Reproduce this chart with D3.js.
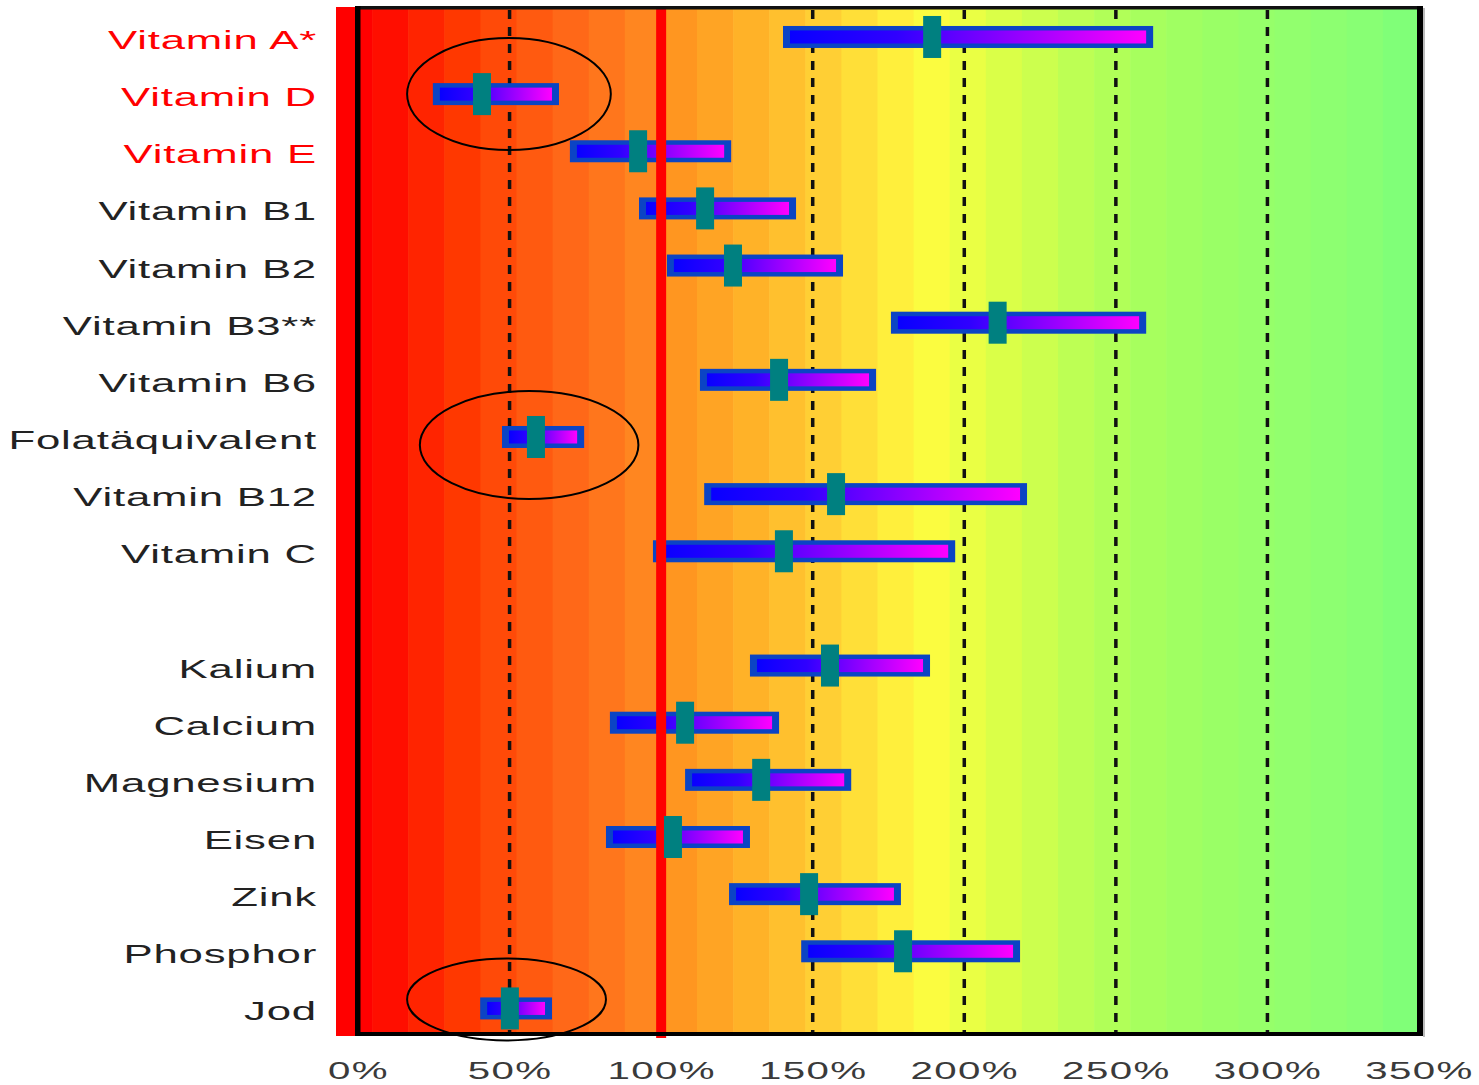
<!DOCTYPE html>
<html>
<head>
<meta charset="utf-8">
<script src="https://cdn.jsdelivr.net/npm/d3@7"></script>
<style>
  html, body { margin: 0; padding: 0; background: #ffffff; }
  svg { display: block; }
</style>
</head>
<body>
<svg id="chart" width="1479" height="1085"></svg>
<script>
// ---------- data ----------
const vitamins = ["Vitamin A*", "Vitamin D", "Vitamin E", "Vitamin B1", "Vitamin B2", "Vitamin B3**",
                  "Vitamin B6", "Folatäquivalent", "Vitamin B12", "Vitamin C"];
const minerals = ["Kalium", "Calcium", "Magnesium", "Eisen", "Zink", "Phosphor", "Jod"];
const categories = [...vitamins, "", ...minerals];
const redLabels = ["Vitamin A*", "Vitamin D", "Vitamin E"];

// range of intake (% of reference) and median marker
const lowValues    = [140.2, 24.7, 69.9, 92.7, 101.9, 175.8, 112.8, 47.5, 114.2, 97.3,
                      129.3, 83.1, 107.9, 81.8, 122.4, 146.2, 40.3];
const highValues   = [262.3, 66.3, 123.1, 144.5, 160.0, 260.0, 170.9, 74.6, 220.7, 197.0,
                      188.7, 138.9, 162.7, 129.3, 179.1, 218.4, 64.0];
const medianValues = [189.4, 40.9, 92.4, 114.5, 123.7, 211.0, 138.9, 58.7, 157.7, 140.5,
                      155.7, 107.9, 133.0, 103.9, 148.8, 179.8, 50.1];
const seriesNames = [...vitamins, ...minerals];

const xTicks = [0, 50, 100, 150, 200, 250, 300, 350];
const dashedTicks = [50, 150, 200, 250, 300];
const referenceLine = 100;

// circled (highlighted) nutrients: value range covered by the ellipse
const highlightCats = ["Vitamin D", "Folatäquivalent", "Jod"];
const highlightFrom = [16.2, 20.4, 16.2];
const highlightTo   = [83.4, 92.5, 81.8];

// ---------- style ----------
const bandColors = ["#ff0000","#ff0e00","#ff2400","#ff3800","#ff4a08","#ff5a10","#ff6818","#ff761c",
  "#ff8620","#ff9620","#ffa424","#ffb228","#ffc02e","#ffcf34","#ffdf38","#ffef3c","#fbfc40","#eaff44",
  "#daff48","#ccff4e","#bdff54","#b1ff58","#a7ff5e","#a0ff62","#9aff66","#96ff6a","#92ff6e","#8dff71",
  "#88ff74","#80ff78"];
const ellipseStyle = { "Vitamin D": {dy: 0, ry: 56}, "Folatäquivalent": {dy: 8, ry: 54}, "Jod": {dy: -9, ry: 41} };
const labelScale = 1.75;

const svg = d3.select("#chart");
const x = d3.scaleLinear().domain([0, 350]).range([358, 1419]);
const y = d3.scaleBand().domain(categories).range([8.4, 1037]).paddingInner(0).paddingOuter(0);
const cy = c => y(c) + y.bandwidth() / 2;

const plotTop = 8, plotBottom = 1034;

// gradient definition for bars
const defs = svg.append("defs");
const grad = defs.append("linearGradient").attr("id", "barGrad")
  .attr("x1", "0%").attr("x2", "100%").attr("y1", "0%").attr("y2", "0%");
grad.append("stop").attr("offset", "0%").attr("stop-color", "#0800ff");
grad.append("stop").attr("offset", "30%").attr("stop-color", "#3000ff");
grad.append("stop").attr("offset", "100%").attr("stop-color", "#ff00ff");

// background bands
const bandStart = 336, bandEnd = x(350);
const bw = (bandEnd - bandStart) / bandColors.length;
svg.append("g").selectAll("rect").data(bandColors).join("rect")
  .attr("x", (d, i) => bandStart + i * bw)
  .attr("width", bw + 0.6)
  .attr("y", plotTop).attr("height", plotBottom - plotTop)
  .attr("fill", d => d);

// red strip at left
svg.append("rect").attr("x", 336).attr("width", 19).attr("y", 7).attr("height", 1029).attr("fill", "#ff0000");

// dashed grid lines
svg.append("g").selectAll("line").data(dashedTicks).join("line")
  .attr("x1", d => x(d)).attr("x2", d => x(d))
  .attr("y1", plotTop + 2).attr("y2", plotBottom)
  .attr("stroke", "#111").attr("stroke-width", 3.5).attr("stroke-dasharray", "9,8");

// bars
const rows = seriesNames.map((c, i) => ({ c, lo: lowValues[i], hi: highValues[i], med: medianValues[i] }));
const barG = svg.append("g");
barG.selectAll("rect.outer").data(rows).join("rect").attr("class", "outer")
  .attr("x", d => x(d.lo)).attr("width", d => x(d.hi) - x(d.lo))
  .attr("y", d => cy(d.c) - 11).attr("height", 22)
  .attr("fill", "#0b44c4");
barG.selectAll("rect.inner").data(rows).join("rect").attr("class", "inner")
  .attr("x", d => x(d.lo) + 7).attr("width", d => Math.max(0, x(d.hi) - x(d.lo) - 14))
  .attr("y", d => cy(d.c) - 6.5).attr("height", 13)
  .attr("fill", "url(#barGrad)");

// reference line at 100%
svg.append("rect").attr("x", x(referenceLine) - 5).attr("width", 10)
  .attr("y", 8).attr("height", 1030).attr("fill", "#ff0000");

// median markers
svg.append("g").selectAll("rect").data(rows).join("rect")
  .attr("x", d => x(d.med) - 9).attr("width", 18)
  .attr("y", d => cy(d.c) - 21).attr("height", 42)
  .attr("fill", "#008080");

// frame
const frame = svg.append("g");
frame.append("rect").attr("x", 355).attr("y", 6).attr("width", 1423 - 355).attr("height", 3.5).attr("fill", "#111");
frame.append("rect").attr("x", 355).attr("y", 1032).attr("width", 1423 - 355).attr("height", 4).attr("fill", "#000");
frame.append("rect").attr("x", 355).attr("y", 6).attr("width", 5.5).attr("height", 1030).attr("fill", "#000");
frame.append("rect").attr("x", 1417).attr("y", 6).attr("width", 6).attr("height", 1030).attr("fill", "#000");
frame.append("rect").attr("x", 1423).attr("y", 8).attr("width", 2).attr("height", 1029).attr("fill", "#bbb");

// ellipses
svg.append("g").selectAll("ellipse").data(highlightCats).join("ellipse")
  .attr("cx", (d, i) => (x(highlightFrom[i]) + x(highlightTo[i])) / 2)
  .attr("rx", (d, i) => (x(highlightTo[i]) - x(highlightFrom[i])) / 2)
  .attr("cy", d => cy(d) + ellipseStyle[d].dy)
  .attr("ry", d => ellipseStyle[d].ry)
  .attr("fill", "none").attr("stroke", "#000").attr("stroke-width", 2);

// y axis labels
const yAxis = svg.append("g").attr("transform", "translate(317,0)")
  .call(d3.axisLeft(y).tickSize(0).tickPadding(0));
yAxis.select(".domain").remove();
yAxis.selectAll(".tick text")
  .attr("x", 0).attr("dy", null).attr("y", 12)
  .attr("transform", `scale(${labelScale},1)`)
  .attr("text-anchor", "end")
  .style("font-family", "'Liberation Sans', Arial, sans-serif")
  .style("font-size", "25px")
  .style("letter-spacing", "0.45px")
  .attr("fill", d => redLabels.includes(d) ? "#ff0000" : "#222222");

// x axis labels
const xAxis = svg.append("g").attr("transform", "translate(0,1079)")
  .call(d3.axisBottom(x).tickValues(xTicks).tickSize(0).tickPadding(0).tickFormat(d => d + "%"));
xAxis.select(".domain").remove();
xAxis.selectAll(".tick text")
  .attr("y", 0).attr("dy", null)
  .attr("transform", `scale(${labelScale},1)`)
  .attr("text-anchor", "middle")
  .style("font-family", "'Liberation Sans', Arial, sans-serif")
  .style("font-size", "23px")
  .style("letter-spacing", "0.8px")
  .attr("fill", "#3a3a3a");
</script>
</body>
</html>
